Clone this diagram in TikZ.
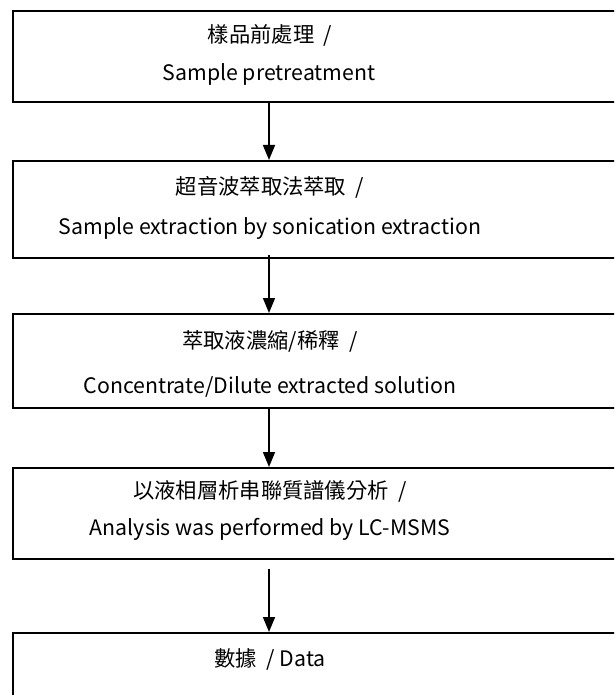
\documentclass[tikz,border=0pt]{standalone}
\usepackage{fontspec}
\setmainfont{Noto Sans CJK TC}
\usetikzlibrary{arrows.meta}
\tikzset{
  box/.style={draw=black, line width=1.6pt, rectangle, inner sep=0pt, anchor=north west, minimum width=680pt},
  lbl/.style={font=\fontsize{21.3}{25}\selectfont, inner sep=0pt, anchor=center},
  flow/.style={line width=1.6pt, -{Triangle[width=12pt,length=15pt]}}
}
\begin{document}
\begin{tikzpicture}[x=1pt,y=-1pt]
\useasboundingbox (0,0) rectangle (614,695);
\clip (0,0) rectangle (614,695);
\fill[white] (0,0) rectangle (614,695);
% boxes
\node[box, minimum height=91pt] (b1) at (12,10) {};
\node[box, minimum height=97pt] (b2) at (12,160) {};
\node[box, minimum height=94pt] (b3) at (12,313) {};
\node[box, minimum height=91pt] (b4) at (12,467) {};
\node[box, minimum height=100pt] (b5) at (12,632) {};
% texts
\node[lbl] (t1a) at (270,35) {樣品前處理 \ /};
\node[lbl] (t1b) at (269,74) {Sample pretreatment};
\node[lbl] (t2a) at (270,187) {超音波萃取法萃取 \ /};
\node[lbl] (t2b) at (270,229) {Sample extraction by sonication extraction};
\node[lbl] (t3a) at (270,341) {萃取液濃縮/稀釋 \ /};
\node[lbl] (t3b) at (270,387) {Concentrate/Dilute extracted solution};
\node[lbl] (t4a) at (270,491) {以液相層析串聯質譜儀分析 \ /};
\node[lbl] (t4b) at (270,529) {Analysis was performed by LC-MSMS};
\node[lbl] (t5) at (270,659) {數據 \ / Data};
% connectors
\draw[flow] (b1.south -| t1b) -- (b2.north -| t1b);
\draw[flow] ([yshift=4pt]b2.south -| t1b) -- (b3.north -| t1b);
\draw[flow] (b3.south -| t1b) -- (b4.north -| t1b);
\draw[flow] ([yshift=-9pt]b4.south -| t1b) -- (b5.north -| t1b);
\end{tikzpicture}
\end{document}
